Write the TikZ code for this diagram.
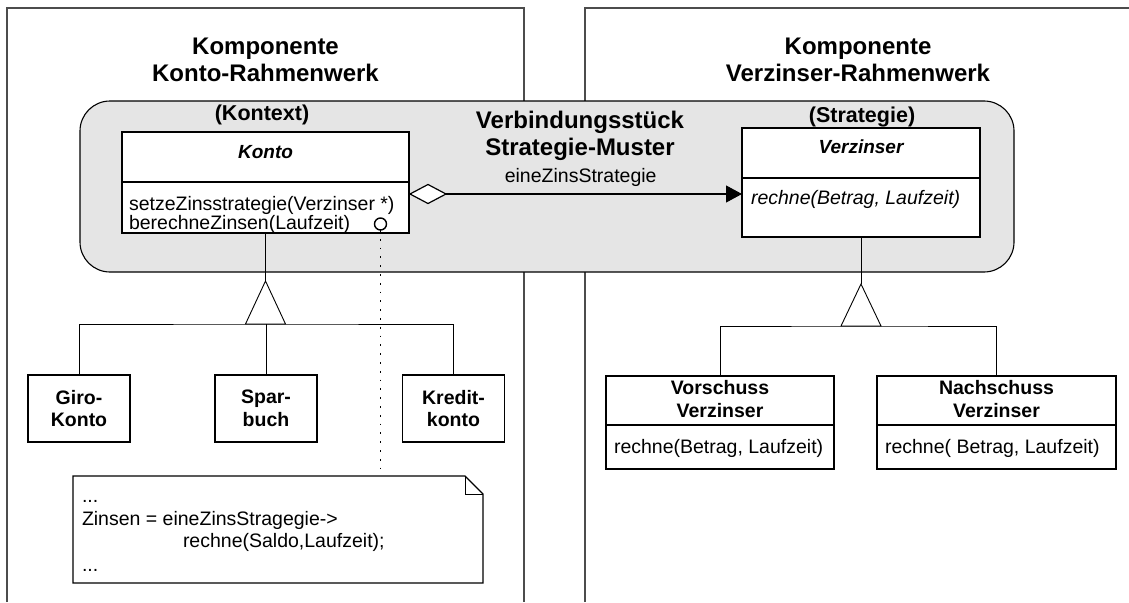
\documentclass[tikz,border=0pt]{standalone}
\usepackage{fontspec}
\setmainfont{Liberation Sans}
\usetikzlibrary{arrows.meta,calc,shapes.geometric}
\begin{document}
\begin{tikzpicture}[x=1pt,y=-1pt,
  every node/.style={inner sep=0pt,outer sep=0pt},
  frameline/.style={draw=black!70,line width=1.3pt},
  boxline/.style={draw=black,line width=1.1pt},
  thinline/.style={draw=black,line width=0.9pt},
  classbox/.style={boxline,fill=white,rectangle},
  plainbox/.style={boxline,fill=white,rectangle},
  bodytxt/.style={font=\fontsize{19.5}{23}\selectfont},
  itxt/.style={font=\fontsize{19.5}{23}\selectfont\itshape},
  clsname/.style={font=\fontsize{19}{22}\selectfont\bfseries\itshape},
  bname/.style={font=\fontsize{19.5}{22.5}\selectfont\bfseries,align=center},
  roletxt/.style={font=\fontsize{21.5}{25}\selectfont\bfseries},
  titletxt/.style={font=\fontsize{24}{27}\selectfont\bfseries,align=center},
  dotline/.style={draw=black,line width=1.8pt,dash pattern=on 1.8pt off 7pt},
  aggdiamond/.style={diamond,draw=black,line width=1.2pt,fill=white,minimum width=36pt,minimum height=19pt}
]
\useasboundingbox (0,0) rectangle (1129,602);
\fill[white] (0,0) rectangle (1129,602);

% component frames
\draw[frameline] (7,602) -- (7,8) -- (524,8) -- (524,602);
\draw[frameline] (585,602) -- (585,8) -- (1129,8);
\node[titletxt] (t1) at (265.5,59.5) {Komponente\\Konto-Rahmenwerk};
\node[titletxt] (t2) at (858,59.5) {Komponente\\Verzinser-Rahmenwerk};

% connector region
\draw[draw=black,line width=1.1pt,fill=black!10,rounded corners=30pt] (80,101) rectangle (1014,272);
\node[titletxt] (t3) at (580,136) {Verbindungsst\"uck\\Strategie-Muster};
\node[roletxt] (kontext) at (262,115) {(Kontext)};
\node[roletxt] (strategie) at (862,117) {(Strategie)};

% Konto class
\node[classbox,minimum width=287pt,minimum height=101pt] (konto) at (265.5,182.5) {};
\draw[boxline] (122,182) -- (409,182);
\node[clsname] (kontoname) at (265.5,152) {Konto};
\node[bodytxt,anchor=base west] (m1) at (129,210) {setzeZinsstrategie(Verzinser *)};
\node[bodytxt,anchor=base west] (m2) at (129,229.5) {berechneZinsen(Laufzeit)};
\node[circle,draw=black,line width=1.4pt,minimum size=12pt] (circ) at (380.5,224) {};

% Verzinser class
\node[classbox,minimum width=238pt,minimum height=109pt] (verz) at (861,182.5) {};
\draw[boxline] (742,178) -- (980,178);
\node[clsname] (verzname) at (861,147) {Verzinser};
\node[itxt,anchor=base west] (m3) at (751,204.5) {rechne(Betrag, Laufzeit)};

% association
\coordinate (assy) at (0,194);
\node[aggdiamond,anchor=west] (agg) at ([xshift=1pt]konto.east |- assy) {};
\draw[line width=1.1pt,-{Triangle[length=16pt,width=17pt]}]
  (agg.east) -- node[bodytxt,above=7pt,pos=0.455] (assoc) {eineZinsStrategie} (verz.west |- assy);

% subclasses left
\node[plainbox,minimum width=102pt,minimum height=67pt] (giro) at (79,408.5) {};
\node[bname] (girot) at (79,408.5) {Giro-\\Konto};
\node[plainbox,minimum width=102pt,minimum height=67pt] (spar) at (266,408.5) {};
\node[bname] (spart) at (266,408.5) {Spar-\\buch};
\node[plainbox,minimum width=102pt,minimum height=67pt] (kredit) at (453.5,408.5) {};
\node[bname] (kreditt) at (453.5,408.5) {Kredit-\\konto};

\coordinate (apexL) at (265.5,281);
\coordinate (barL) at (265.5,324);
\draw[thinline] (konto.south) -- (apexL);
\draw[thinline,fill=white] (apexL) -- ++(-20,43) -- ++(40,0) -- cycle;
\draw[thinline] (giro.north) |- (barL) -| (kredit.north);
\draw[thinline] (spar.north) -- (spar.north |- barL);

% subclasses right
\node[plainbox,minimum width=228pt,minimum height=93pt] (vor) at (720,422.5) {};
\draw[boxline] (606,425) -- (834,425);
\node[bname] (vort) at (720,399) {Vorschuss\\Verzinser};
\node[bodytxt,anchor=base west] (m4) at (614,453) {rechne(Betrag, Laufzeit)};
\node[plainbox,minimum width=239pt,minimum height=93pt] (nach) at (996.5,422.5) {};
\draw[boxline] (877,425) -- (1116,425);
\node[bname] (nacht) at (996.5,399) {Nachschuss\\Verzinser};
\node[bodytxt,anchor=base west] (m5) at (885,453) {rechne( Betrag, Laufzeit)};

\coordinate (apexR) at (861,284);
\coordinate (barR) at (861,326);
\draw[thinline] (verz.south) -- (apexR);
\draw[thinline,fill=white] (apexR) -- ++(-20,42) -- ++(40,0) -- cycle;
\draw[thinline] (vor.north) |- (barR) -| (nach.north);

% note
\node[minimum width=410pt,minimum height=107pt] (note) at (278,529.5) {};
\draw[boxline] (note.north west) -- ($(note.north east)+(-18,0)$) -- ($(note.north east)+(0,18)$) -- (note.south east) -- (note.south west) -- cycle;
\draw[line width=0.9pt] ($(note.north east)+(-18,0)$) -- ($(note.north east)+(-18,18)$) -- ($(note.north east)+(0,18)$);
\node[bodytxt,anchor=base west] (n1) at (82,502) {...};
\node[bodytxt,anchor=base west] (n2) at (82,525) {Zinsen = eineZinsStragegie->};
\node[bodytxt,anchor=base west] (n3) at (183,547) {rechne(Saldo,Laufzeit);};
\node[bodytxt,anchor=base west] (n4) at (82,571) {...};

% note link
\draw[dotline] (circ.south) -- (circ.south |- note.north);
\end{tikzpicture}
\end{document}
